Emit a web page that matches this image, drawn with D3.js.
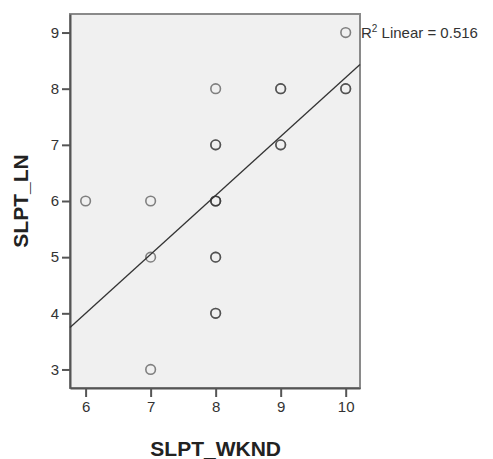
<!DOCTYPE html>
<html>
<head>
<meta charset="utf-8">
<script src="https://cdn.jsdelivr.net/npm/d3@7"></script>
<style>
  body { margin: 0; background: #fff; }
  svg { display: block; font-family: "Liberation Sans", Arial, sans-serif; }
</style>
</head>
<body>
<div id="chart"></div>
<script>
// data
const slptWknd = [6, 7, 7, 7, 8, 8, 8, 8, 8, 9, 9, 10, 10];
const slptLn   = [6, 6, 5, 3, 8, 7, 6, 5, 4, 8, 7, 9, 8];
const overlap  = [1, 1, 1, 1, 1, 2, 3, 2, 2, 2, 2, 1, 2];
const xTicks = [6, 7, 8, 9, 10];
const yTicks = [3, 4, 5, 6, 7, 8, 9];
const fitSlope = 1.05;
const fitIntercept = -2.30;
const rSquared = "0.516";

const W = 493, H = 459;
const margin = { top: 14, right: 133, bottom: 71, left: 70 };
const width = W - margin.left - margin.right;
const height = H - margin.top - margin.bottom;

const svg = d3.select("#chart").append("svg")
    .attr("width", W).attr("height", H);
const g = svg.append("g")
    .attr("transform", `translate(${margin.left},${margin.top})`);

const x = d3.scaleLinear().domain([5.76, 10.22]).range([0, width]);
const y = d3.scaleLinear().domain([2.67, 9.33]).range([height, 0]);

// plot background + frame
g.append("rect")
    .attr("width", width).attr("height", height)
    .attr("fill", "#f0f0f0")
    .attr("stroke", "#8a8a8a").attr("stroke-width", 2);

// axes
const xAxis = g.append("g")
    .attr("transform", `translate(0,${height})`)
    .call(d3.axisBottom(x).tickValues(xTicks).tickFormat(d3.format("d"))
        .tickSizeInner(9).tickSizeOuter(0).tickPadding(4));
const yAxis = g.append("g")
    .call(d3.axisLeft(y).tickValues(yTicks).tickFormat(d3.format("d"))
        .tickSizeInner(8).tickSizeOuter(0).tickPadding(3));
[xAxis, yAxis].forEach(a => {
    a.select(".domain").attr("stroke", "#555").attr("stroke-width", 2);
    a.selectAll(".tick line").attr("stroke", "#555").attr("stroke-width", 2);
    a.selectAll(".tick text")
        .attr("fill", "#333")
        .style("font-size", "15px")
        .style("font-family", "'Liberation Sans', Arial, sans-serif");
});

// fit line, clipped to plot
const [x0, x1] = x.domain();
g.append("line")
    .attr("x1", x(x0)).attr("y1", y(fitIntercept + fitSlope * x0))
    .attr("x2", x(x1)).attr("y2", y(fitIntercept + fitSlope * x1))
    .attr("stroke", "#333").attr("stroke-width", 1.3);

// points (stacked circles darken where several cases overlap)
const pts = [];
slptWknd.forEach((v, i) => {
    for (let k = 0; k < overlap[i]; k++) pts.push({ x: v, y: slptLn[i] });
});
g.selectAll("circle.pt")
    .data(pts)
    .enter().append("circle")
    .attr("class", "pt")
    .attr("cx", d => x(d.x))
    .attr("cy", d => y(d.y))
    .attr("r", 4.8)
    .attr("fill", "none")
    .attr("stroke", "#333")
    .attr("stroke-opacity", 0.6)
    .attr("stroke-width", 1.6);

// R² label
const rl = svg.append("text")
    .attr("x", margin.left + width + 1)
    .attr("y", margin.top + y(9) + 5)
    .attr("fill", "#333")
    .style("font-size", "15px");
rl.append("tspan").text("R");
rl.append("tspan").attr("dy", -6).style("font-size", "10px").text("2");
rl.append("tspan").attr("dy", 6).text(` Linear = ${rSquared}`);

// axis titles
svg.append("text")
    .attr("x", margin.left + x(8))
    .attr("y", 456)
    .attr("text-anchor", "middle")
    .attr("fill", "#222")
    .style("font-size", "21px").style("font-weight", "bold")
    .text("SLPT_WKND");
svg.append("text")
    .attr("transform", `translate(28,${margin.top + y(6)}) rotate(-90)`)
    .attr("text-anchor", "middle")
    .attr("fill", "#222")
    .style("font-size", "21px").style("font-weight", "bold")
    .text("SLPT_LN");
</script>
</body>
</html>
